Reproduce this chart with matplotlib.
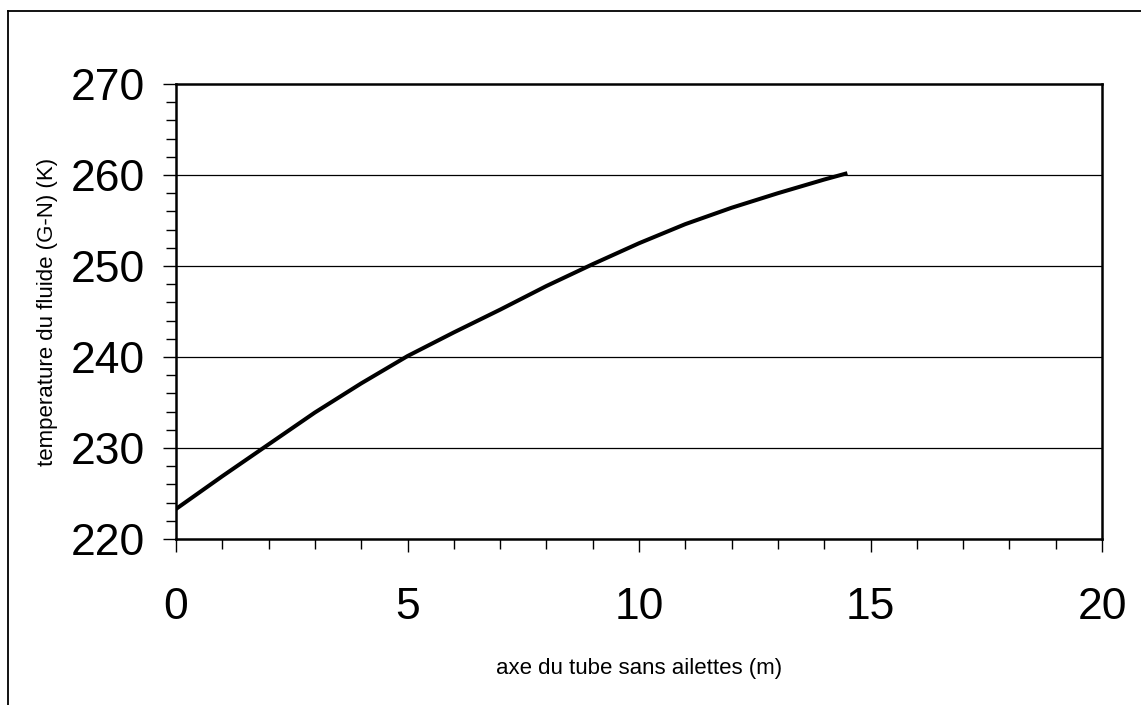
import matplotlib
matplotlib.use("Agg")
import matplotlib.pyplot as plt
from matplotlib.lines import Line2D
from matplotlib.ticker import MultipleLocator

# Fluid temperature along the finless tube
position_m = [0, 1, 2, 3, 4, 5, 6, 7, 8, 9, 10, 11, 12, 13, 14, 14.5]
temperature_K = [223.3, 226.9, 230.4, 233.9, 237.1, 240.1, 242.7, 245.2,
                 247.8, 250.2, 252.5, 254.6, 256.4, 258.0, 259.5, 260.2]

x_ticks = [0, 5, 10, 15, 20]
y_ticks = [220, 230, 240, 250, 260, 270]
x_label = "axe du tube sans ailettes (m)"
y_label = "temperature du fluide (G-N) (K)"

plt.rcParams['font.family'] = ['Liberation Sans', 'DejaVu Sans']

W, H = 1141, 705
fig = plt.figure(figsize=(W / 100, H / 100), dpi=100)
fig.patch.set_facecolor('white')

left, right, top, bottom = 176, 1102, 84, 539
ax = fig.add_axes([left / W, 1 - bottom / H, (right - left) / W, (bottom - top) / H])

ax.plot(position_m, temperature_K, color='black', lw=2.9, solid_capstyle='butt')

ax.set_xlim(0, 20)
ax.set_ylim(220, 270)
ax.set_xticks(x_ticks)
ax.set_yticks(y_ticks)
ax.xaxis.set_minor_locator(MultipleLocator(1))
ax.yaxis.set_minor_locator(MultipleLocator(2))

for y in y_ticks[1:-1]:
    ax.axhline(y, color='black', lw=0.9, zorder=0)

for s in ax.spines.values():
    s.set_linewidth(1.8)
    s.set_color('black')

ax.tick_params(axis='both', which='major', direction='out', length=9.5, width=1.0,
               labelsize=32, colors='black')
ax.tick_params(axis='both', which='minor', direction='out', length=7, width=1.0)
ax.tick_params(axis='x', which='major', pad=25)
ax.tick_params(axis='y', which='major', pad=13)

ax.set_xlabel(x_label, fontsize=16, labelpad=22)
ax.set_ylabel(y_label, fontsize=16, labelpad=9)

# outer frame (left and top edges)
fig.add_artist(Line2D([8 / W, 8 / W], [0, 1 - 11 / H], transform=fig.transFigure,
                      color='black', lw=1.3))
fig.add_artist(Line2D([8 / W, 1], [1 - 11 / H, 1 - 11 / H], transform=fig.transFigure,
                      color='black', lw=1.3))

fig.savefig("out.png", dpi=100, facecolor='white')
